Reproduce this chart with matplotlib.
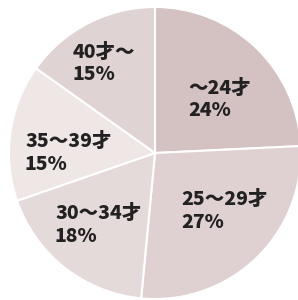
import matplotlib
matplotlib.use("Agg")
import matplotlib.pyplot as plt

categories = ["～24才", "25～29才", "30～34才", "35～39才", "40才～"]
values = [24, 27, 18, 15, 15]
colors = ["#d4c2c2", "#dfd1d1", "#e5dada", "#eee7e6", "#e0d3d3"]

plt.rcParams['font.family'] = ['Noto Sans CJK JP', 'DejaVu Sans']

fig = plt.figure(figsize=(2.98, 3.0), dpi=100)
ax = fig.add_axes([0, 0, 1, 1])

cx, cy, r = 155, 147, 146
ax.pie(values, colors=colors, startangle=90, counterclock=False,
       center=(cx, cy), radius=r, frame=True,
       wedgeprops=dict(edgecolor='white', linewidth=1.5))
ax.set_xlim(0, 298)
ax.set_ylim(0, 300)
ax.set_aspect('equal')
ax.axis('off')

# label anchor positions (pixel coords, from top-left)
label_pos = [(188, 88), (181, 199), (55, 213), (25, 141), (73, 52)]
for cat, val, (x, y) in zip(categories, values, label_pos):
    ax.text(x, 300 - y, cat, fontsize=14, fontweight='heavy', color='#222222',
            ha='left', va='center')
    ax.text(x, 300 - y - 23, f"{val}%", fontsize=14, fontweight='heavy',
            color='#222222', ha='left', va='center')

fig.savefig("out.png", dpi=100)
